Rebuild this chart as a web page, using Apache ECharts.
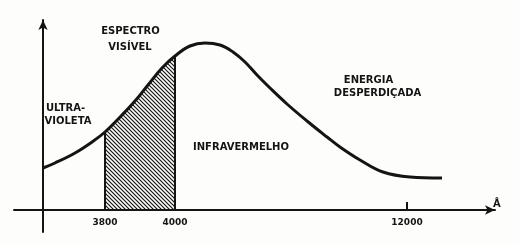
<!DOCTYPE html>
<html><head><meta charset="utf-8">
<script src="https://cdn.jsdelivr.net/npm/echarts@6/dist/echarts.min.js"></script>
<style>html,body{margin:0;padding:0;background:#fdfdfb}#c{width:520px;height:245px}</style>
</head><body><div id="c"></div>
<script>
// Schematic spectrum: x in diagram units (not linear in wavelength), y = relative energy
const curveX = [0, 12, 32, 49, 62, 79, 92, 105, 119, 132, 147, 162, 177, 190, 202, 214, 227, 244, 264, 284, 297, 317, 340, 367, 399];
const curveY = [42, 47, 57, 68, 78, 95, 109, 125, 142, 154, 164, 167, 165, 158, 148, 135, 122, 106, 89, 73, 63, 50, 38, 33, 32];
const visibleStart = 62, visibleEnd = 132;
const tickPositions = [62, 132, 364];
const tickLabels = ['3800', '4000', '12000'];
const texts = [
  {t: 'ESPECTRO', x: 87.5, y: 179}, {t: 'VISÍVEL', x: 87, y: 163},
  {t: 'ULTRA-', x: 22.5, y: 102}, {t: 'VIOLETA', x: 25, y: 89},
  {t: 'INFRAVERMELHO', x: 198, y: 63},
  {t: 'ENERGIA', x: 325.5, y: 130}, {t: 'DESPERDIÇADA', x: 334.5, y: 117}
];

const curve = curveX.map((x, i) => [x, curveY[i]]);
const visible = curve.filter(p => p[0] >= visibleStart && p[0] <= visibleEnd);

const pc = document.createElement('canvas');
pc.width = 4; pc.height = 4;
const g = pc.getContext('2d');
g.strokeStyle = '#151515'; g.lineWidth = 1.2;
g.beginPath();
g.moveTo(-1, -1); g.lineTo(5, 5);
g.moveTo(-1, 3); g.lineTo(1, 5);
g.moveTo(3, -1); g.lineTo(5, 1);
g.stroke();

const ink = '#141414';
const chart = echarts.init(document.getElementById('c'));
chart.setOption({
  backgroundColor: '#fdfdfb',
  animation: false,
  grid: {left: 14, right: 25, top: 20, bottom: 13},
  xAxis: {
    type: 'value', min: -29, max: 452, splitLine: {show: false},
    axisLine: {onZero: true, lineStyle: {color: ink, width: 2}, symbol: ['none', 'arrow'], symbolSize: [7, 10]},
    axisTick: {show: true, customValues: [tickPositions[2]], inside: true, length: 8, lineStyle: {color: ink, width: 2}},
    axisLabel: {customValues: tickPositions, margin: -14, color: ink, fontFamily: 'DejaVu Sans', fontWeight: 'bold', fontSize: 9,
      formatter: v => tickLabels[tickPositions.indexOf(v)]},
    name: 'Å', nameLocation: 'end', nameGap: -2,
    nameTextStyle: {color: ink, fontFamily: 'DejaVu Sans', fontWeight: 'bold', fontSize: 10, verticalAlign: 'bottom', padding: [0, 0, 1, 0]}
  },
  yAxis: {
    type: 'value', min: -22, max: 190, splitLine: {show: false},
    axisLine: {show: true, onZero: true, lineStyle: {color: ink, width: 2}, symbol: ['none', 'arrow'], symbolSize: [7, 10]},
    axisTick: {show: false}, axisLabel: {show: false}
  },
  series: [
    {type: 'line', data: visible, smooth: 0.4, symbol: 'none', lineStyle: {width: 0},
      areaStyle: {color: {image: pc, repeat: 'repeat'}, opacity: 1},
      markLine: {symbol: 'none', silent: true, label: {show: false},
        lineStyle: {color: ink, width: 2, type: 'solid'},
        data: [
          [{coord: [visible[0][0], 0]}, {coord: visible[0]}],
          [{coord: [visible[visible.length - 1][0], 0]}, {coord: visible[visible.length - 1]}]
        ]}},
    {type: 'line', data: curve, smooth: 0.4, symbol: 'none', lineStyle: {color: ink, width: 3}, z: 5}
  ]
});

chart.setOption({
  graphic: texts.map(o => {
    const p = chart.convertToPixel({gridIndex: 0}, [o.x, o.y]);
    return {type: 'text', x: p[0], y: p[1], style: {text: o.t, fill: ink, align: 'center', verticalAlign: 'middle',
      font: 'bold 10px "DejaVu Sans"'}};
  })
});
</script></body></html>
